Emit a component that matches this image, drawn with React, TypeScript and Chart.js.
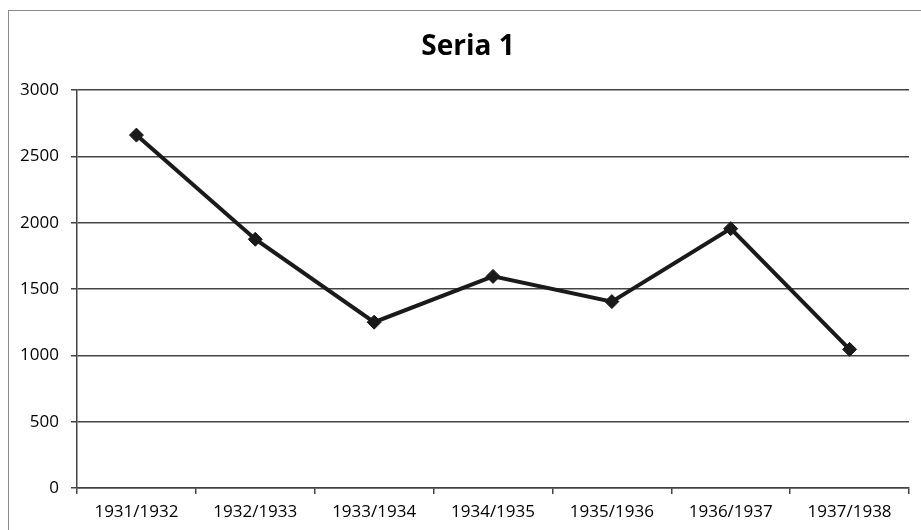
import React, { useEffect, useRef } from "react";
import { Chart, registerables } from "chart.js";

Chart.register(...registerables);

const categories = ["1931/1932", "1932/1933", "1933/1934", "1934/1935", "1935/1936", "1936/1937", "1937/1938"];
const seriesValues = [2660, 1875, 1250, 1595, 1405, 1955, 1045];
const yTicks = [0, 500, 1000, 1500, 2000, 2500, 3000];
const titleText = "Seria 1";

const FONT = "'Open Sans', 'Liberation Sans', sans-serif";

const framePlugin = {
  id: "frame",
  beforeDraw(chart: any) {
    const ctx = chart.ctx;
    ctx.save();
    ctx.fillStyle = "#ffffff";
    ctx.fillRect(0, 0, chart.width, chart.height);
    ctx.strokeStyle = "#8a8a8a";
    ctx.lineWidth = 1;
    ctx.strokeRect(8.5, 10.5, chart.width + 20, chart.height + 20);
    ctx.restore();
  },
  afterDraw(chart: any) {
    const ctx = chart.ctx;
    ctx.save();
    ctx.fillStyle = "#000000";
    ctx.font = `bold 28px ${FONT}`;
    ctx.textAlign = "center";
    ctx.textBaseline = "middle";
    ctx.fillText(titleText, 468, 47);
    ctx.restore();
  },
};

export default function App() {
  const ref = useRef<HTMLCanvasElement>(null);
  useEffect(() => {
    if (!ref.current) return;
    const chart = new Chart(ref.current, {
      type: "line",
      data: {
        labels: categories,
        datasets: [
          {
            label: titleText,
            data: seriesValues,
            borderColor: "#1a1a1a",
            backgroundColor: "#1a1a1a",
            borderWidth: 4,
            pointStyle: "rectRot",
            pointRadius: 7,
            pointBorderWidth: 1,
            tension: 0,
          },
        ],
      },
      options: {
        responsive: false,
        animation: false,
        layout: { padding: { left: 0, right: 12, top: 90, bottom: 0 } },
        plugins: {
          legend: { display: false },
          tooltip: { enabled: false },
          title: { display: false },
        },
        scales: {
          x: {
            type: "category",
            offset: true,
            grid: {
              offset: true,
              drawOnChartArea: false,
              drawTicks: true,
              tickLength: 6,
              color: "#444444",
              lineWidth: 1.5,
            },
            border: { display: true, color: "#444444", width: 1.5 },
            ticks: {
              color: "#000000",
              font: { family: FONT, size: 17 },
              padding: 8,
              maxRotation: 0,
              autoSkip: false,
            },
            afterFit(scale: any) {
              scale.height = 42;
            },
          },
          y: {
            min: 0,
            max: 3000,
            afterBuildTicks(scale: any) {
              scale.ticks = yTicks.map((v) => ({ value: v }));
            },
            grid: {
              color: "#444444",
              lineWidth: 1.5,
              drawTicks: true,
              tickLength: 6,
            },
            border: { display: true, color: "#444444", width: 1.5 },
            ticks: {
              color: "#000000",
              font: { family: FONT, size: 17 },
              padding: 12,
              callback: (v: any) => String(v),
            },
            afterFit(scale: any) {
              scale.width = 77;
            },
          },
        },
      },
      plugins: [framePlugin],
    });
    return () => chart.destroy();
  }, []);
  return (
    <div style={{ position: "fixed", left: 0, top: 0, width: 921, height: 530, background: "#fff" }}>
      <canvas ref={ref} width={921} height={530} style={{ display: "block" }} />
    </div>
  );
}
